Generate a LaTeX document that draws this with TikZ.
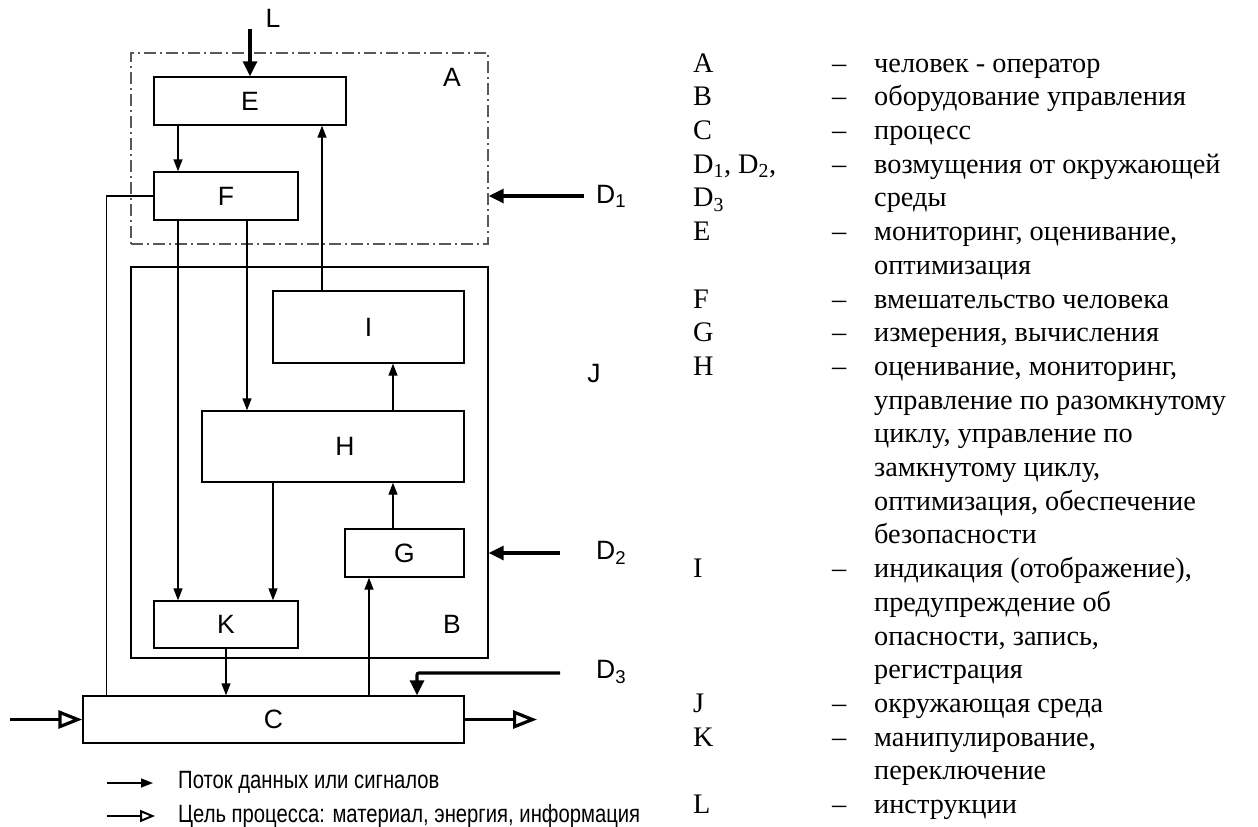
\documentclass[tikz,border=0pt]{standalone}
\usepackage{fontspec}
\setmainfont{Liberation Serif}
\newfontfamily\diafont{Liberation Sans}
\newfontfamily\narrowfont[FakeStretch=0.81]{Liberation Sans}
\usetikzlibrary{arrows.meta}

\begin{document}
\begin{tikzpicture}[x=1pt,y=-1pt,
    blk/.style={draw,line width=1.4pt,inner sep=0pt,font=\diafont\fontsize{26.5}{30}\selectfont},
    frame/.style={draw,line width=1.4pt,inner sep=0pt},
    sig/.style={line width=1.4pt,-{Triangle[length=12pt,width=9pt]}},
    dist/.style={line width=3.2pt,-{Triangle[length=15pt,width=14pt]}},
    flow/.style={line width=3.2pt,-{Triangle[open,length=24pt,width=18pt]}},
    lbl/.style={font=\diafont\fontsize{26.5}{30}\selectfont,inner sep=0pt}]
    \useasboundingbox (0,0) rectangle (1258,827);
    % operator and control equipment frames
    \node[frame,draw=black!65,dash pattern=on 12pt off 4pt on 2pt off 4pt,
          minimum width=357pt,minimum height=191pt] (A) at (309.5,148.5) {};
    \node[frame,minimum width=357pt,minimum height=391pt] (B) at (309.5,462.5) {};
    \node[lbl] (la) at (452,77) {A};
    \node[lbl] (lb) at (452,624) {B};
    \node[lbl] (lj) at (594,374) {J};
    % blocks
    \node[blk,minimum width=192pt,minimum height=48pt] (E) at (250,101) {E};
    \node[blk,minimum width=144pt,minimum height=48pt] (F) at (226,196) {F};
    \node[blk,minimum width=191pt,minimum height=72pt] (I) at (368.5,327) {I};
    \node[blk,minimum width=262pt,minimum height=71pt] (H) at (333,446.5) {\hspace*{24pt}H};
    \node[blk,minimum width=119pt,minimum height=48pt] (G) at (404.5,553) {G};
    \node[blk,minimum width=144pt,minimum height=47pt] (K) at (226,624.5) {K};
    \node[blk,minimum width=381pt,minimum height=47pt] (C) at (273.5,719.5) {C};
    % signals
    \draw[sig] ([xshift=-72pt]E.south) -- ([xshift=-72pt]E.south |- F.north);
    \draw[sig] ([xshift=-46.5pt]I.north) -- ([xshift=-46.5pt]I.north |- E.south);
    \draw[sig] ([xshift=21pt]F.south) -- ([xshift=21pt]F.south |- H.north);
    \draw[sig] ([xshift=-48pt]F.south) -- ([xshift=-48pt]F.south |- K.north);
    \draw[line width=1.4pt] (F.west) -| ([xshift=24pt]C.north west);
    \draw[sig] ([xshift=60pt]H.north) -- ([xshift=60pt]H.north |- I.south);
    \draw[sig] ([xshift=-60pt]H.south) -- ([xshift=-60pt]H.south |- K.north);
    \draw[sig] ([xshift=-11.5pt]G.north) -- ([xshift=-11.5pt]G.north |- H.south);
    \draw[sig] ([xshift=95.5pt]C.north) -- ([xshift=95.5pt]C.north |- G.south);
    \draw[sig] (K.south) -- (K.south |- C.north);
    % instructions and disturbances
    \coordinate (l0) at (250,29);
    \coordinate (d1) at (584,196);
    \coordinate (d2) at (560,553);
    \coordinate (d3) at (560,673);
    \draw[dist] (l0) -- (E.north);
    \draw[dist] (d1) -- (d1 -| A.east);
    \draw[dist] (d2) -- (d2 -| B.east);
    \draw[dist,rounded corners=2pt] (d3) -| ([xshift=143.5pt]C.north);
    \node[lbl] (ll) at (273,18) {L};
    \node[lbl,anchor=west] (ld1) at (596,196) {D\textsubscript{1}};
    \node[lbl,anchor=west] (ld2) at (596,553) {D\textsubscript{2}};
    \node[lbl,anchor=west] (ld3) at (596,672) {D\textsubscript{3}};
    % process flow
    \coordinate (cin) at (10,719.5);
    \coordinate (cout) at (537,719.5);
    \draw[flow] (cin) -- (C.west);
    \draw[flow] (C.east) -- (cout);
    % key
    \coordinate (k1) at (107,783);
    \coordinate (k2) at (153,783);
    \coordinate (k3) at (107,816);
    \coordinate (k4) at (155,816);
    \draw[sig] (k1) -- (k2);
    \draw[line width=2pt,-{Triangle[open,length=15pt,width=12pt]}] (k3) -- (k4);
    \node[anchor=base west,inner sep=0pt,font=\narrowfont\fontsize{25}{28}\selectfont] (t1) at (178,788) {Поток данных или сигналов};
    \node[anchor=base west,inner sep=0pt,font=\narrowfont\fontsize{25}{28}\selectfont] (t2) at (178,822) {Цель процесса: материал, энергия, информация};
    \node[anchor=north west,inner sep=0pt,font=\fontsize{28.3}{33.7}\selectfont] (legend) at (693,48.4) {%
    \begin{tabular}{@{}p{139pt}@{}p{42pt}@{}l@{}}
    A & -- & человек - оператор \\
    B & -- & оборудование управления \\
    C & -- & процесс \\
    D\textsubscript{1}, D\textsubscript{2}, & -- & возмущения от окружающей \\
    D\textsubscript{3} & & среды \\
    E & -- & мониторинг, оценивание, \\
     & & оптимизация \\
    F & -- & вмешательство человека \\
    G & -- & измерения, вычисления \\
    H & -- & оценивание, мониторинг, \\
     & & управление по разомкнутому \\
     & & циклу, управление по \\
     & & замкнутому циклу, \\
     & & оптимизация, обеспечение \\
     & & безопасности \\
    I & -- & индикация (отображение), \\
     & & предупреждение об \\
     & & опасности, запись, \\
     & & регистрация \\
    J & -- & окружающая среда \\
    K & -- & манипулирование, \\
     & & переключение \\
    L & -- & инструкции
    \end{tabular}};
\end{tikzpicture}
\end{document}
